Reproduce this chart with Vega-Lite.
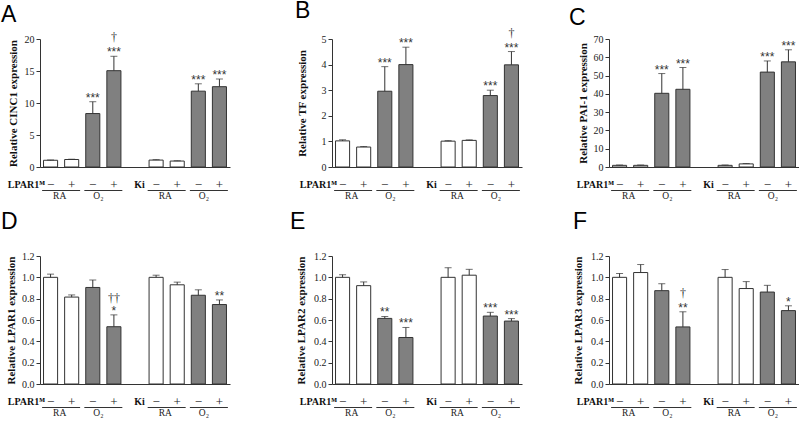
{
  "$schema": "https://vega.github.io/schema/vega-lite/v6.json",
  "padding": {"left": 1, "top": -1, "right": 0, "bottom": 0},
  "autosize": {"type": "pad"},
  "background": "white",
  "columns": 3,
  "align": "each",
  "bounds": "flush",
  "spacing": {"row": 0, "column": 87},
  "config": {
    "view": {"stroke": null},
    "font": "Liberation Serif",
    "axis": {"domainColor": "#333", "tickColor": "#333", "labelColor": "#222", "titleColor": "#111", "labelFont": "Liberation Serif", "labelFontSize": 10, "titleFont": "Liberation Serif", "titleFontSize": 11, "titleFontWeight": "bold", "grid": false, "tickSize": 4, "labelPadding": 2, "domainWidth": 1, "tickWidth": 1},
    "title": {"font": "Liberation Sans", "fontSize": 23, "fontWeight": "normal", "anchor": "start", "frame": "group", "color": "#000", "baseline": "alphabetic"}
  },
  "datasets": {
    "bars": [
      {"panel": "A", "slot": "c1", "cond": "RA", "mean": 1.05, "hi": 1.1},
      {"panel": "A", "slot": "c2", "cond": "RA", "mean": 1.17, "hi": 1.22},
      {"panel": "A", "slot": "c3", "cond": "O2", "mean": 8.35, "hi": 10.2, "sig": "***"},
      {"panel": "A", "slot": "c4", "cond": "O2", "mean": 15.05, "hi": 17.3, "sig": "***", "dag": "†"},
      {"panel": "A", "slot": "k1", "cond": "RA", "mean": 1.08, "hi": 1.15},
      {"panel": "A", "slot": "k2", "cond": "RA", "mean": 0.93, "hi": 0.98},
      {"panel": "A", "slot": "k3", "cond": "O2", "mean": 11.85, "hi": 13.0, "sig": "***"},
      {"panel": "A", "slot": "k4", "cond": "O2", "mean": 12.55, "hi": 13.75, "sig": "***"},
      {"panel": "B", "slot": "c1", "cond": "RA", "mean": 1.02, "hi": 1.06},
      {"panel": "B", "slot": "c2", "cond": "RA", "mean": 0.78, "hi": 0.8},
      {"panel": "B", "slot": "c3", "cond": "O2", "mean": 2.96, "hi": 3.92, "sig": "***"},
      {"panel": "B", "slot": "c4", "cond": "O2", "mean": 4.0, "hi": 4.68, "sig": "***"},
      {"panel": "B", "slot": "k1", "cond": "RA", "mean": 1.01, "hi": 1.03},
      {"panel": "B", "slot": "k2", "cond": "RA", "mean": 1.04, "hi": 1.06},
      {"panel": "B", "slot": "k3", "cond": "O2", "mean": 2.79, "hi": 3.0, "sig": "***"},
      {"panel": "B", "slot": "k4", "cond": "O2", "mean": 3.99, "hi": 4.51, "sig": "***", "dag": "†"},
      {"panel": "C", "slot": "c1", "cond": "RA", "mean": 0.9, "hi": 1.1},
      {"panel": "C", "slot": "c2", "cond": "RA", "mean": 0.9, "hi": 1.1},
      {"panel": "C", "slot": "c3", "cond": "O2", "mean": 40.3, "hi": 51.1, "sig": "***"},
      {"panel": "C", "slot": "c4", "cond": "O2", "mean": 42.5, "hi": 54.4, "sig": "***"},
      {"panel": "C", "slot": "k1", "cond": "RA", "mean": 0.9, "hi": 1.1},
      {"panel": "C", "slot": "k2", "cond": "RA", "mean": 1.7, "hi": 1.9},
      {"panel": "C", "slot": "k3", "cond": "O2", "mean": 51.9, "hi": 58.0, "sig": "***"},
      {"panel": "C", "slot": "k4", "cond": "O2", "mean": 57.5, "hi": 64.1, "sig": "***"},
      {"panel": "D", "slot": "c1", "cond": "RA", "mean": 1.0, "hi": 1.03},
      {"panel": "D", "slot": "c2", "cond": "RA", "mean": 0.815, "hi": 0.835},
      {"panel": "D", "slot": "c3", "cond": "O2", "mean": 0.905, "hi": 0.975},
      {"panel": "D", "slot": "c4", "cond": "O2", "mean": 0.537, "hi": 0.648, "sig": "*", "dag": "††"},
      {"panel": "D", "slot": "k1", "cond": "RA", "mean": 1.0, "hi": 1.02},
      {"panel": "D", "slot": "k2", "cond": "RA", "mean": 0.93, "hi": 0.955},
      {"panel": "D", "slot": "k3", "cond": "O2", "mean": 0.832, "hi": 0.883},
      {"panel": "D", "slot": "k4", "cond": "O2", "mean": 0.745, "hi": 0.788, "sig": "**"},
      {"panel": "E", "slot": "c1", "cond": "RA", "mean": 1.0, "hi": 1.025},
      {"panel": "E", "slot": "c2", "cond": "RA", "mean": 0.922, "hi": 0.957},
      {"panel": "E", "slot": "c3", "cond": "O2", "mean": 0.615, "hi": 0.633, "sig": "**"},
      {"panel": "E", "slot": "c4", "cond": "O2", "mean": 0.436, "hi": 0.53, "sig": "***"},
      {"panel": "E", "slot": "k1", "cond": "RA", "mean": 1.0, "hi": 1.09},
      {"panel": "E", "slot": "k2", "cond": "RA", "mean": 1.02, "hi": 1.075},
      {"panel": "E", "slot": "k3", "cond": "O2", "mean": 0.637, "hi": 0.672, "sig": "***"},
      {"panel": "E", "slot": "k4", "cond": "O2", "mean": 0.59, "hi": 0.613, "sig": "***"},
      {"panel": "F", "slot": "c1", "cond": "RA", "mean": 1.0, "hi": 1.037},
      {"panel": "F", "slot": "c2", "cond": "RA", "mean": 1.045, "hi": 1.12},
      {"panel": "F", "slot": "c3", "cond": "O2", "mean": 0.875, "hi": 0.94},
      {"panel": "F", "slot": "c4", "cond": "O2", "mean": 0.535, "hi": 0.677, "sig": "**", "dag": "†"},
      {"panel": "F", "slot": "k1", "cond": "RA", "mean": 1.0, "hi": 1.073},
      {"panel": "F", "slot": "k2", "cond": "RA", "mean": 0.895, "hi": 0.96},
      {"panel": "F", "slot": "k3", "cond": "O2", "mean": 0.862, "hi": 0.925},
      {"panel": "F", "slot": "k4", "cond": "O2", "mean": 0.688, "hi": 0.733, "sig": "*"}
    ],
    "strip": [
      {"kind": "sign", "slot": "c1", "row": "sign", "txt": "−"},
      {"kind": "sign", "slot": "c2", "row": "sign", "txt": "+"},
      {"kind": "sign", "slot": "c3", "row": "sign", "txt": "−"},
      {"kind": "sign", "slot": "c4", "row": "sign", "txt": "+"},
      {"kind": "sign", "slot": "k1", "row": "sign", "txt": "−"},
      {"kind": "sign", "slot": "k2", "row": "sign", "txt": "+"},
      {"kind": "sign", "slot": "k3", "row": "sign", "txt": "−"},
      {"kind": "sign", "slot": "k4", "row": "sign", "txt": "+"},
      {"kind": "lp", "slot": "c1", "row": "sign", "txt": "LPAR1ᴹ"},
      {"kind": "ki", "slot": "gap", "row": "sign", "txt": "Ki"},
      {"kind": "line", "slot": "c1", "slot2": "c2", "row": "line"},
      {"kind": "line", "slot": "c3", "slot2": "c4", "row": "line"},
      {"kind": "line", "slot": "k1", "slot2": "k2", "row": "line"},
      {"kind": "line", "slot": "k3", "slot2": "k4", "row": "line"},
      {"kind": "ra", "slot": "c1", "row": "label", "txt": "RA"},
      {"kind": "ra", "slot": "k1", "row": "label", "txt": "RA"},
      {"kind": "o2", "slot": "c3", "row": "label", "txt": "O₂"},
      {"kind": "o2", "slot": "k3", "row": "label", "txt": "O₂"}
    ]
  },
  "concat": [
    {
      "width": 190, "height": 128,
      "title": {"text": "A", "dx": -39, "offset": 4},
      "data": {"name": "bars"},
      "transform": [{"filter": "datum.panel === 'A'"}],
      "encoding": {
        "x": {"field": "slot", "type": "nominal", "scale": {"type": "band", "domain": ["c1","c2","c3","c4","gap","k1","k2","k3","k4"], "paddingInner": 0.333, "paddingOuter": 0.167}, "axis": {"labels": false, "ticks": false, "title": null}},
        "y": {"field": "mean", "type": "quantitative", "scale": {"domain": [0, 20], "nice": false}, "axis": {"title": "Relative CINC1 expression", "values": [0, 5, 10, 15, 20], "format": "d", "titlePadding": 6}}
      },
      "layer": [
        {"mark": {"type": "bar", "stroke": "#333", "strokeWidth": 1}, "encoding": {"fill": {"field": "cond", "type": "nominal", "scale": {"domain": ["RA", "O2"], "range": ["#ffffff", "#808080"]}, "legend": null}}},
        {"mark": {"type": "rule", "color": "#333", "strokeWidth": 1}, "encoding": {"y2": {"field": "hi"}}},
        {"mark": {"type": "tick", "color": "#333", "size": 7, "thickness": 1}, "encoding": {"y": {"field": "hi", "type": "quantitative"}}},
        {"transform": [{"filter": "datum.sig"}], "mark": {"type": "text", "font": "Liberation Sans", "fontSize": 12, "baseline": "alphabetic", "color": "#333"}, "encoding": {"y": {"field": "hi", "type": "quantitative"}, "text": {"field": "sig"}}},
        {"transform": [{"filter": "datum.dag"}], "mark": {"type": "text", "font": "Liberation Serif", "fontSize": 12, "baseline": "alphabetic", "color": "#333", "dy": -15}, "encoding": {"y": {"field": "hi", "type": "quantitative"}, "text": {"field": "dag"}}}
      ]
    },
    {
      "width": 190, "height": 128,
      "title": {"text": "B", "dx": -37, "offset": 4},
      "data": {"name": "bars"},
      "transform": [{"filter": "datum.panel === 'B'"}],
      "encoding": {
        "x": {"field": "slot", "type": "nominal", "scale": {"type": "band", "domain": ["c1","c2","c3","c4","gap","k1","k2","k3","k4"], "paddingInner": 0.333, "paddingOuter": 0.167}, "axis": {"labels": false, "ticks": false, "title": null}},
        "y": {"field": "mean", "type": "quantitative", "scale": {"domain": [0, 5], "nice": false}, "axis": {"title": "Relative TF expression", "values": [0, 1, 2, 3, 4, 5], "format": "d", "titlePadding": 14}}
      },
      "layer": [
        {"mark": {"type": "bar", "stroke": "#333", "strokeWidth": 1}, "encoding": {"fill": {"field": "cond", "type": "nominal", "scale": {"domain": ["RA", "O2"], "range": ["#ffffff", "#808080"]}, "legend": null}}},
        {"mark": {"type": "rule", "color": "#333", "strokeWidth": 1}, "encoding": {"y2": {"field": "hi"}}},
        {"mark": {"type": "tick", "color": "#333", "size": 7, "thickness": 1}, "encoding": {"y": {"field": "hi", "type": "quantitative"}}},
        {"transform": [{"filter": "datum.sig"}], "mark": {"type": "text", "font": "Liberation Sans", "fontSize": 12, "baseline": "alphabetic", "color": "#333"}, "encoding": {"y": {"field": "hi", "type": "quantitative"}, "text": {"field": "sig"}}},
        {"transform": [{"filter": "datum.dag"}], "mark": {"type": "text", "font": "Liberation Serif", "fontSize": 12, "baseline": "alphabetic", "color": "#333", "dy": -15}, "encoding": {"y": {"field": "hi", "type": "quantitative"}, "text": {"field": "dag"}}}
      ]
    },
    {
      "width": 190, "height": 128,
      "title": {"text": "C", "dx": -40, "offset": 4},
      "data": {"name": "bars"},
      "transform": [{"filter": "datum.panel === 'C'"}],
      "encoding": {
        "x": {"field": "slot", "type": "nominal", "scale": {"type": "band", "domain": ["c1","c2","c3","c4","gap","k1","k2","k3","k4"], "paddingInner": 0.333, "paddingOuter": 0.167}, "axis": {"labels": false, "ticks": false, "title": null}},
        "y": {"field": "mean", "type": "quantitative", "scale": {"domain": [0, 70], "nice": false}, "axis": {"title": "Relative PAI-1 expression", "values": [0, 10, 20, 30, 40, 50, 60, 70], "format": "d", "titlePadding": 5}}
      },
      "layer": [
        {"mark": {"type": "bar", "stroke": "#333", "strokeWidth": 1}, "encoding": {"fill": {"field": "cond", "type": "nominal", "scale": {"domain": ["RA", "O2"], "range": ["#ffffff", "#808080"]}, "legend": null}}},
        {"mark": {"type": "rule", "color": "#333", "strokeWidth": 1}, "encoding": {"y2": {"field": "hi"}}},
        {"mark": {"type": "tick", "color": "#333", "size": 7, "thickness": 1}, "encoding": {"y": {"field": "hi", "type": "quantitative"}}},
        {"transform": [{"filter": "datum.sig"}], "mark": {"type": "text", "font": "Liberation Sans", "fontSize": 12, "baseline": "alphabetic", "color": "#333"}, "encoding": {"y": {"field": "hi", "type": "quantitative"}, "text": {"field": "sig"}}}
      ]
    },
    {
      "width": 205, "height": 89,
      "data": {"name": "strip"},
      "encoding": {"y": {"field": "row", "type": "nominal", "scale": {"type": "point", "domain": ["sign", "line", "label"], "range": [15, 32]}, "axis": null}},
      "layer": [
        {"transform": [{"filter": "datum.kind === 'sign'"}], "mark": {"type": "text", "font": "Liberation Serif", "fontSize": 13, "color": "#222"}, "encoding": {"x": {"field": "slot", "type": "nominal", "scale": {"type": "band", "domain": ["c1","c2","c3","c4","gap","k1","k2","k3","k4"], "paddingInner": 0.333, "paddingOuter": 0.167, "range": [0, 190]}, "axis": null}, "text": {"field": "txt"}}},
        {"transform": [{"filter": "datum.kind === 'lp'"}], "mark": {"type": "text", "font": "Liberation Serif", "fontSize": 10, "fontWeight": "bold", "align": "right", "color": "#111"}, "encoding": {"x": {"field": "slot", "type": "nominal", "bandPosition": 0.1, "scale": {"type": "band", "domain": ["c1","c2","c3","c4","gap","k1","k2","k3","k4"], "paddingInner": 0.333, "paddingOuter": 0.167, "range": [0, 190]}, "axis": null}, "text": {"field": "txt"}}},
        {"transform": [{"filter": "datum.kind === 'ki'"}], "mark": {"type": "text", "font": "Liberation Serif", "fontSize": 10, "fontWeight": "bold", "align": "right", "color": "#111"}, "encoding": {"x": {"field": "slot", "type": "nominal", "bandPosition": 1.2, "scale": {"type": "band", "domain": ["c1","c2","c3","c4","gap","k1","k2","k3","k4"], "paddingInner": 0.333, "paddingOuter": 0.167, "range": [0, 190]}, "axis": null}, "text": {"field": "txt"}}},
        {"transform": [{"filter": "datum.kind === 'line'"}], "mark": {"type": "rule", "color": "#333", "strokeWidth": 1}, "encoding": {"x": {"field": "slot", "type": "nominal", "bandPosition": -0.1, "scale": {"type": "band", "domain": ["c1","c2","c3","c4","gap","k1","k2","k3","k4"], "paddingInner": 0.333, "paddingOuter": 0.167, "range": [0, 190]}, "axis": null}, "x2": {"field": "slot2", "bandPosition": 1.1}}},
        {"transform": [{"filter": "datum.kind === 'ra'"}], "mark": {"type": "text", "font": "Liberation Serif", "fontSize": 9.5, "color": "#222"}, "encoding": {"x": {"field": "slot", "type": "nominal", "bandPosition": 1.15, "scale": {"type": "band", "domain": ["c1","c2","c3","c4","gap","k1","k2","k3","k4"], "paddingInner": 0.333, "paddingOuter": 0.167, "range": [0, 190]}, "axis": null}, "text": {"field": "txt"}}},
        {"transform": [{"filter": "datum.kind === 'o2'"}], "mark": {"type": "text", "font": "Liberation Serif", "fontSize": 9.5, "color": "#222"}, "encoding": {"x": {"field": "slot", "type": "nominal", "bandPosition": 0.9, "scale": {"type": "band", "domain": ["c1","c2","c3","c4","gap","k1","k2","k3","k4"], "paddingInner": 0.333, "paddingOuter": 0.167, "range": [0, 190]}, "axis": null}, "text": {"field": "txt"}}}
      ]
    },
    {
      "width": 190, "height": 89,
      "data": {"name": "strip"},
      "encoding": {"y": {"field": "row", "type": "nominal", "scale": {"type": "point", "domain": ["sign", "line", "label"], "range": [15, 32]}, "axis": null}},
      "layer": [
        {"transform": [{"filter": "datum.kind === 'sign'"}], "mark": {"type": "text", "font": "Liberation Serif", "fontSize": 13, "color": "#222"}, "encoding": {"x": {"field": "slot", "type": "nominal", "scale": {"type": "band", "domain": ["c1","c2","c3","c4","gap","k1","k2","k3","k4"], "paddingInner": 0.333, "paddingOuter": 0.167, "range": [0, 190]}, "axis": null}, "text": {"field": "txt"}}},
        {"transform": [{"filter": "datum.kind === 'lp'"}], "mark": {"type": "text", "font": "Liberation Serif", "fontSize": 10, "fontWeight": "bold", "align": "right", "color": "#111"}, "encoding": {"x": {"field": "slot", "type": "nominal", "bandPosition": 0.1, "scale": {"type": "band", "domain": ["c1","c2","c3","c4","gap","k1","k2","k3","k4"], "paddingInner": 0.333, "paddingOuter": 0.167, "range": [0, 190]}, "axis": null}, "text": {"field": "txt"}}},
        {"transform": [{"filter": "datum.kind === 'ki'"}], "mark": {"type": "text", "font": "Liberation Serif", "fontSize": 10, "fontWeight": "bold", "align": "right", "color": "#111"}, "encoding": {"x": {"field": "slot", "type": "nominal", "bandPosition": 1.2, "scale": {"type": "band", "domain": ["c1","c2","c3","c4","gap","k1","k2","k3","k4"], "paddingInner": 0.333, "paddingOuter": 0.167, "range": [0, 190]}, "axis": null}, "text": {"field": "txt"}}},
        {"transform": [{"filter": "datum.kind === 'line'"}], "mark": {"type": "rule", "color": "#333", "strokeWidth": 1}, "encoding": {"x": {"field": "slot", "type": "nominal", "bandPosition": -0.1, "scale": {"type": "band", "domain": ["c1","c2","c3","c4","gap","k1","k2","k3","k4"], "paddingInner": 0.333, "paddingOuter": 0.167, "range": [0, 190]}, "axis": null}, "x2": {"field": "slot2", "bandPosition": 1.1}}},
        {"transform": [{"filter": "datum.kind === 'ra'"}], "mark": {"type": "text", "font": "Liberation Serif", "fontSize": 9.5, "color": "#222"}, "encoding": {"x": {"field": "slot", "type": "nominal", "bandPosition": 1.15, "scale": {"type": "band", "domain": ["c1","c2","c3","c4","gap","k1","k2","k3","k4"], "paddingInner": 0.333, "paddingOuter": 0.167, "range": [0, 190]}, "axis": null}, "text": {"field": "txt"}}},
        {"transform": [{"filter": "datum.kind === 'o2'"}], "mark": {"type": "text", "font": "Liberation Serif", "fontSize": 9.5, "color": "#222"}, "encoding": {"x": {"field": "slot", "type": "nominal", "bandPosition": 0.9, "scale": {"type": "band", "domain": ["c1","c2","c3","c4","gap","k1","k2","k3","k4"], "paddingInner": 0.333, "paddingOuter": 0.167, "range": [0, 190]}, "axis": null}, "text": {"field": "txt"}}}
      ]
    },
    {
      "width": 190, "height": 89,
      "data": {"name": "strip"},
      "encoding": {"y": {"field": "row", "type": "nominal", "scale": {"type": "point", "domain": ["sign", "line", "label"], "range": [15, 32]}, "axis": null}},
      "layer": [
        {"transform": [{"filter": "datum.kind === 'sign'"}], "mark": {"type": "text", "font": "Liberation Serif", "fontSize": 13, "color": "#222"}, "encoding": {"x": {"field": "slot", "type": "nominal", "scale": {"type": "band", "domain": ["c1","c2","c3","c4","gap","k1","k2","k3","k4"], "paddingInner": 0.333, "paddingOuter": 0.167, "range": [0, 190]}, "axis": null}, "text": {"field": "txt"}}},
        {"transform": [{"filter": "datum.kind === 'lp'"}], "mark": {"type": "text", "font": "Liberation Serif", "fontSize": 10, "fontWeight": "bold", "align": "right", "color": "#111"}, "encoding": {"x": {"field": "slot", "type": "nominal", "bandPosition": 0.1, "scale": {"type": "band", "domain": ["c1","c2","c3","c4","gap","k1","k2","k3","k4"], "paddingInner": 0.333, "paddingOuter": 0.167, "range": [0, 190]}, "axis": null}, "text": {"field": "txt"}}},
        {"transform": [{"filter": "datum.kind === 'ki'"}], "mark": {"type": "text", "font": "Liberation Serif", "fontSize": 10, "fontWeight": "bold", "align": "right", "color": "#111"}, "encoding": {"x": {"field": "slot", "type": "nominal", "bandPosition": 1.2, "scale": {"type": "band", "domain": ["c1","c2","c3","c4","gap","k1","k2","k3","k4"], "paddingInner": 0.333, "paddingOuter": 0.167, "range": [0, 190]}, "axis": null}, "text": {"field": "txt"}}},
        {"transform": [{"filter": "datum.kind === 'line'"}], "mark": {"type": "rule", "color": "#333", "strokeWidth": 1}, "encoding": {"x": {"field": "slot", "type": "nominal", "bandPosition": -0.1, "scale": {"type": "band", "domain": ["c1","c2","c3","c4","gap","k1","k2","k3","k4"], "paddingInner": 0.333, "paddingOuter": 0.167, "range": [0, 190]}, "axis": null}, "x2": {"field": "slot2", "bandPosition": 1.1}}},
        {"transform": [{"filter": "datum.kind === 'ra'"}], "mark": {"type": "text", "font": "Liberation Serif", "fontSize": 9.5, "color": "#222"}, "encoding": {"x": {"field": "slot", "type": "nominal", "bandPosition": 1.15, "scale": {"type": "band", "domain": ["c1","c2","c3","c4","gap","k1","k2","k3","k4"], "paddingInner": 0.333, "paddingOuter": 0.167, "range": [0, 190]}, "axis": null}, "text": {"field": "txt"}}},
        {"transform": [{"filter": "datum.kind === 'o2'"}], "mark": {"type": "text", "font": "Liberation Serif", "fontSize": 9.5, "color": "#222"}, "encoding": {"x": {"field": "slot", "type": "nominal", "bandPosition": 0.9, "scale": {"type": "band", "domain": ["c1","c2","c3","c4","gap","k1","k2","k3","k4"], "paddingInner": 0.333, "paddingOuter": 0.167, "range": [0, 190]}, "axis": null}, "text": {"field": "txt"}}}
      ]
    },
    {
      "width": 190, "height": 128,
      "title": {"text": "D", "dx": -39, "offset": 17},
      "data": {"name": "bars"},
      "transform": [{"filter": "datum.panel === 'D'"}],
      "encoding": {
        "x": {"field": "slot", "type": "nominal", "scale": {"type": "band", "domain": ["c1","c2","c3","c4","gap","k1","k2","k3","k4"], "paddingInner": 0.333, "paddingOuter": 0.167}, "axis": {"labels": false, "ticks": false, "title": null}},
        "y": {"field": "mean", "type": "quantitative", "scale": {"domain": [0, 1.2], "nice": false}, "axis": {"title": "Relative LPAR1 expression", "values": [0, 0.2, 0.4, 0.6, 0.8, 1.0, 1.2], "format": ".1f", "titlePadding": 5}}
      },
      "layer": [
        {"mark": {"type": "bar", "stroke": "#333", "strokeWidth": 1}, "encoding": {"fill": {"field": "cond", "type": "nominal", "scale": {"domain": ["RA", "O2"], "range": ["#ffffff", "#808080"]}, "legend": null}}},
        {"mark": {"type": "rule", "color": "#333", "strokeWidth": 1}, "encoding": {"y2": {"field": "hi"}}},
        {"mark": {"type": "tick", "color": "#333", "size": 7, "thickness": 1}, "encoding": {"y": {"field": "hi", "type": "quantitative"}}},
        {"transform": [{"filter": "datum.sig"}], "mark": {"type": "text", "font": "Liberation Sans", "fontSize": 12, "baseline": "alphabetic", "color": "#333"}, "encoding": {"y": {"field": "hi", "type": "quantitative"}, "text": {"field": "sig"}}},
        {"transform": [{"filter": "datum.dag"}], "mark": {"type": "text", "font": "Liberation Serif", "fontSize": 12, "baseline": "alphabetic", "color": "#333", "dy": -13}, "encoding": {"y": {"field": "hi", "type": "quantitative"}, "text": {"field": "dag"}}}
      ]
    },
    {
      "width": 190, "height": 128,
      "title": {"text": "E", "dx": -42, "offset": 17},
      "data": {"name": "bars"},
      "transform": [{"filter": "datum.panel === 'E'"}],
      "encoding": {
        "x": {"field": "slot", "type": "nominal", "scale": {"type": "band", "domain": ["c1","c2","c3","c4","gap","k1","k2","k3","k4"], "paddingInner": 0.333, "paddingOuter": 0.167}, "axis": {"labels": false, "ticks": false, "title": null}},
        "y": {"field": "mean", "type": "quantitative", "scale": {"domain": [0, 1.2], "nice": false}, "axis": {"title": "Relative LPAR2 expression", "values": [0, 0.2, 0.4, 0.6, 0.8, 1.0, 1.2], "format": ".1f", "titlePadding": 7}}
      },
      "layer": [
        {"mark": {"type": "bar", "stroke": "#333", "strokeWidth": 1}, "encoding": {"fill": {"field": "cond", "type": "nominal", "scale": {"domain": ["RA", "O2"], "range": ["#ffffff", "#808080"]}, "legend": null}}},
        {"mark": {"type": "rule", "color": "#333", "strokeWidth": 1}, "encoding": {"y2": {"field": "hi"}}},
        {"mark": {"type": "tick", "color": "#333", "size": 7, "thickness": 1}, "encoding": {"y": {"field": "hi", "type": "quantitative"}}},
        {"transform": [{"filter": "datum.sig"}], "mark": {"type": "text", "font": "Liberation Sans", "fontSize": 12, "baseline": "alphabetic", "color": "#333"}, "encoding": {"y": {"field": "hi", "type": "quantitative"}, "text": {"field": "sig"}}}
      ]
    },
    {
      "width": 190, "height": 128,
      "title": {"text": "F", "dx": -36, "offset": 17},
      "data": {"name": "bars"},
      "transform": [{"filter": "datum.panel === 'F'"}],
      "encoding": {
        "x": {"field": "slot", "type": "nominal", "scale": {"type": "band", "domain": ["c1","c2","c3","c4","gap","k1","k2","k3","k4"], "paddingInner": 0.333, "paddingOuter": 0.167}, "axis": {"labels": false, "ticks": false, "title": null}},
        "y": {"field": "mean", "type": "quantitative", "scale": {"domain": [0, 1.2], "nice": false}, "axis": {"title": "Relative LPAR3 expression", "values": [0, 0.2, 0.4, 0.6, 0.8, 1.0, 1.2], "format": ".1f", "titlePadding": 7}}
      },
      "layer": [
        {"mark": {"type": "bar", "stroke": "#333", "strokeWidth": 1}, "encoding": {"fill": {"field": "cond", "type": "nominal", "scale": {"domain": ["RA", "O2"], "range": ["#ffffff", "#808080"]}, "legend": null}}},
        {"mark": {"type": "rule", "color": "#333", "strokeWidth": 1}, "encoding": {"y2": {"field": "hi"}}},
        {"mark": {"type": "tick", "color": "#333", "size": 7, "thickness": 1}, "encoding": {"y": {"field": "hi", "type": "quantitative"}}},
        {"transform": [{"filter": "datum.sig"}], "mark": {"type": "text", "font": "Liberation Sans", "fontSize": 12, "baseline": "alphabetic", "color": "#333"}, "encoding": {"y": {"field": "hi", "type": "quantitative"}, "text": {"field": "sig"}}},
        {"transform": [{"filter": "datum.dag"}], "mark": {"type": "text", "font": "Liberation Serif", "fontSize": 12, "baseline": "alphabetic", "color": "#333", "dy": -15}, "encoding": {"y": {"field": "hi", "type": "quantitative"}, "text": {"field": "dag"}}}
      ]
    },
    {
      "width": 205, "height": 89,
      "data": {"name": "strip"},
      "encoding": {"y": {"field": "row", "type": "nominal", "scale": {"type": "point", "domain": ["sign", "line", "label"], "range": [15, 32]}, "axis": null}},
      "layer": [
        {"transform": [{"filter": "datum.kind === 'sign'"}], "mark": {"type": "text", "font": "Liberation Serif", "fontSize": 13, "color": "#222"}, "encoding": {"x": {"field": "slot", "type": "nominal", "scale": {"type": "band", "domain": ["c1","c2","c3","c4","gap","k1","k2","k3","k4"], "paddingInner": 0.333, "paddingOuter": 0.167, "range": [0, 190]}, "axis": null}, "text": {"field": "txt"}}},
        {"transform": [{"filter": "datum.kind === 'lp'"}], "mark": {"type": "text", "font": "Liberation Serif", "fontSize": 10, "fontWeight": "bold", "align": "right", "color": "#111"}, "encoding": {"x": {"field": "slot", "type": "nominal", "bandPosition": 0.1, "scale": {"type": "band", "domain": ["c1","c2","c3","c4","gap","k1","k2","k3","k4"], "paddingInner": 0.333, "paddingOuter": 0.167, "range": [0, 190]}, "axis": null}, "text": {"field": "txt"}}},
        {"transform": [{"filter": "datum.kind === 'ki'"}], "mark": {"type": "text", "font": "Liberation Serif", "fontSize": 10, "fontWeight": "bold", "align": "right", "color": "#111"}, "encoding": {"x": {"field": "slot", "type": "nominal", "bandPosition": 1.2, "scale": {"type": "band", "domain": ["c1","c2","c3","c4","gap","k1","k2","k3","k4"], "paddingInner": 0.333, "paddingOuter": 0.167, "range": [0, 190]}, "axis": null}, "text": {"field": "txt"}}},
        {"transform": [{"filter": "datum.kind === 'line'"}], "mark": {"type": "rule", "color": "#333", "strokeWidth": 1}, "encoding": {"x": {"field": "slot", "type": "nominal", "bandPosition": -0.1, "scale": {"type": "band", "domain": ["c1","c2","c3","c4","gap","k1","k2","k3","k4"], "paddingInner": 0.333, "paddingOuter": 0.167, "range": [0, 190]}, "axis": null}, "x2": {"field": "slot2", "bandPosition": 1.1}}},
        {"transform": [{"filter": "datum.kind === 'ra'"}], "mark": {"type": "text", "font": "Liberation Serif", "fontSize": 9.5, "color": "#222"}, "encoding": {"x": {"field": "slot", "type": "nominal", "bandPosition": 1.15, "scale": {"type": "band", "domain": ["c1","c2","c3","c4","gap","k1","k2","k3","k4"], "paddingInner": 0.333, "paddingOuter": 0.167, "range": [0, 190]}, "axis": null}, "text": {"field": "txt"}}},
        {"transform": [{"filter": "datum.kind === 'o2'"}], "mark": {"type": "text", "font": "Liberation Serif", "fontSize": 9.5, "color": "#222"}, "encoding": {"x": {"field": "slot", "type": "nominal", "bandPosition": 0.9, "scale": {"type": "band", "domain": ["c1","c2","c3","c4","gap","k1","k2","k3","k4"], "paddingInner": 0.333, "paddingOuter": 0.167, "range": [0, 190]}, "axis": null}, "text": {"field": "txt"}}}
      ]
    },
    {
      "width": 190, "height": 89,
      "data": {"name": "strip"},
      "encoding": {"y": {"field": "row", "type": "nominal", "scale": {"type": "point", "domain": ["sign", "line", "label"], "range": [15, 32]}, "axis": null}},
      "layer": [
        {"transform": [{"filter": "datum.kind === 'sign'"}], "mark": {"type": "text", "font": "Liberation Serif", "fontSize": 13, "color": "#222"}, "encoding": {"x": {"field": "slot", "type": "nominal", "scale": {"type": "band", "domain": ["c1","c2","c3","c4","gap","k1","k2","k3","k4"], "paddingInner": 0.333, "paddingOuter": 0.167, "range": [0, 190]}, "axis": null}, "text": {"field": "txt"}}},
        {"transform": [{"filter": "datum.kind === 'lp'"}], "mark": {"type": "text", "font": "Liberation Serif", "fontSize": 10, "fontWeight": "bold", "align": "right", "color": "#111"}, "encoding": {"x": {"field": "slot", "type": "nominal", "bandPosition": 0.1, "scale": {"type": "band", "domain": ["c1","c2","c3","c4","gap","k1","k2","k3","k4"], "paddingInner": 0.333, "paddingOuter": 0.167, "range": [0, 190]}, "axis": null}, "text": {"field": "txt"}}},
        {"transform": [{"filter": "datum.kind === 'ki'"}], "mark": {"type": "text", "font": "Liberation Serif", "fontSize": 10, "fontWeight": "bold", "align": "right", "color": "#111"}, "encoding": {"x": {"field": "slot", "type": "nominal", "bandPosition": 1.2, "scale": {"type": "band", "domain": ["c1","c2","c3","c4","gap","k1","k2","k3","k4"], "paddingInner": 0.333, "paddingOuter": 0.167, "range": [0, 190]}, "axis": null}, "text": {"field": "txt"}}},
        {"transform": [{"filter": "datum.kind === 'line'"}], "mark": {"type": "rule", "color": "#333", "strokeWidth": 1}, "encoding": {"x": {"field": "slot", "type": "nominal", "bandPosition": -0.1, "scale": {"type": "band", "domain": ["c1","c2","c3","c4","gap","k1","k2","k3","k4"], "paddingInner": 0.333, "paddingOuter": 0.167, "range": [0, 190]}, "axis": null}, "x2": {"field": "slot2", "bandPosition": 1.1}}},
        {"transform": [{"filter": "datum.kind === 'ra'"}], "mark": {"type": "text", "font": "Liberation Serif", "fontSize": 9.5, "color": "#222"}, "encoding": {"x": {"field": "slot", "type": "nominal", "bandPosition": 1.15, "scale": {"type": "band", "domain": ["c1","c2","c3","c4","gap","k1","k2","k3","k4"], "paddingInner": 0.333, "paddingOuter": 0.167, "range": [0, 190]}, "axis": null}, "text": {"field": "txt"}}},
        {"transform": [{"filter": "datum.kind === 'o2'"}], "mark": {"type": "text", "font": "Liberation Serif", "fontSize": 9.5, "color": "#222"}, "encoding": {"x": {"field": "slot", "type": "nominal", "bandPosition": 0.9, "scale": {"type": "band", "domain": ["c1","c2","c3","c4","gap","k1","k2","k3","k4"], "paddingInner": 0.333, "paddingOuter": 0.167, "range": [0, 190]}, "axis": null}, "text": {"field": "txt"}}}
      ]
    },
    {
      "width": 190, "height": 89,
      "data": {"name": "strip"},
      "encoding": {"y": {"field": "row", "type": "nominal", "scale": {"type": "point", "domain": ["sign", "line", "label"], "range": [15, 32]}, "axis": null}},
      "layer": [
        {"transform": [{"filter": "datum.kind === 'sign'"}], "mark": {"type": "text", "font": "Liberation Serif", "fontSize": 13, "color": "#222"}, "encoding": {"x": {"field": "slot", "type": "nominal", "scale": {"type": "band", "domain": ["c1","c2","c3","c4","gap","k1","k2","k3","k4"], "paddingInner": 0.333, "paddingOuter": 0.167, "range": [0, 190]}, "axis": null}, "text": {"field": "txt"}}},
        {"transform": [{"filter": "datum.kind === 'lp'"}], "mark": {"type": "text", "font": "Liberation Serif", "fontSize": 10, "fontWeight": "bold", "align": "right", "color": "#111"}, "encoding": {"x": {"field": "slot", "type": "nominal", "bandPosition": 0.1, "scale": {"type": "band", "domain": ["c1","c2","c3","c4","gap","k1","k2","k3","k4"], "paddingInner": 0.333, "paddingOuter": 0.167, "range": [0, 190]}, "axis": null}, "text": {"field": "txt"}}},
        {"transform": [{"filter": "datum.kind === 'ki'"}], "mark": {"type": "text", "font": "Liberation Serif", "fontSize": 10, "fontWeight": "bold", "align": "right", "color": "#111"}, "encoding": {"x": {"field": "slot", "type": "nominal", "bandPosition": 1.2, "scale": {"type": "band", "domain": ["c1","c2","c3","c4","gap","k1","k2","k3","k4"], "paddingInner": 0.333, "paddingOuter": 0.167, "range": [0, 190]}, "axis": null}, "text": {"field": "txt"}}},
        {"transform": [{"filter": "datum.kind === 'line'"}], "mark": {"type": "rule", "color": "#333", "strokeWidth": 1}, "encoding": {"x": {"field": "slot", "type": "nominal", "bandPosition": -0.1, "scale": {"type": "band", "domain": ["c1","c2","c3","c4","gap","k1","k2","k3","k4"], "paddingInner": 0.333, "paddingOuter": 0.167, "range": [0, 190]}, "axis": null}, "x2": {"field": "slot2", "bandPosition": 1.1}}},
        {"transform": [{"filter": "datum.kind === 'ra'"}], "mark": {"type": "text", "font": "Liberation Serif", "fontSize": 9.5, "color": "#222"}, "encoding": {"x": {"field": "slot", "type": "nominal", "bandPosition": 1.15, "scale": {"type": "band", "domain": ["c1","c2","c3","c4","gap","k1","k2","k3","k4"], "paddingInner": 0.333, "paddingOuter": 0.167, "range": [0, 190]}, "axis": null}, "text": {"field": "txt"}}},
        {"transform": [{"filter": "datum.kind === 'o2'"}], "mark": {"type": "text", "font": "Liberation Serif", "fontSize": 9.5, "color": "#222"}, "encoding": {"x": {"field": "slot", "type": "nominal", "bandPosition": 0.9, "scale": {"type": "band", "domain": ["c1","c2","c3","c4","gap","k1","k2","k3","k4"], "paddingInner": 0.333, "paddingOuter": 0.167, "range": [0, 190]}, "axis": null}, "text": {"field": "txt"}}}
      ]
    }
  ]
}
